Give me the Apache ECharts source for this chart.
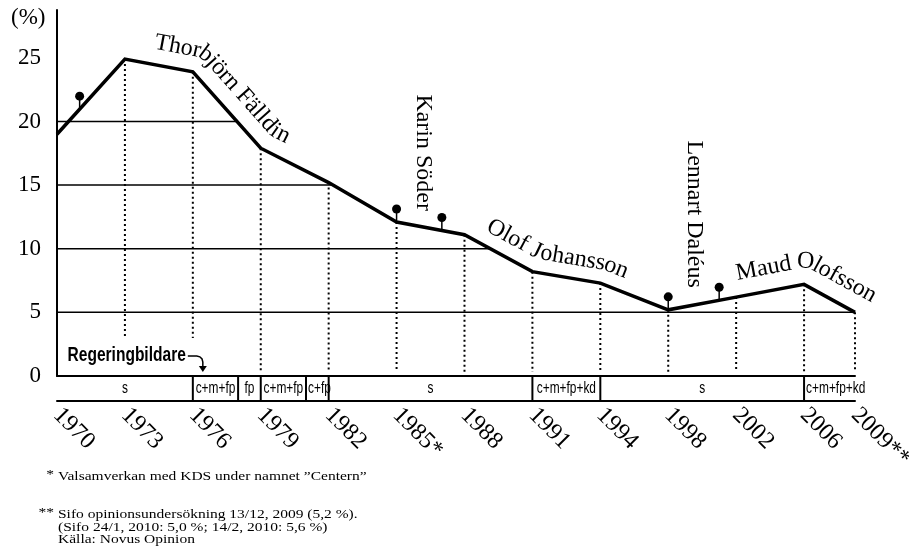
<!DOCTYPE html>
<html>
  <head>
    <meta charset="utf-8" />
    <title>Centerpartiet 1970–2009</title>
    <script src="https://cdn.jsdelivr.net/npm/echarts@6/dist/echarts.min.js"></script>
    <style>
      * {
        padding: 0;
        margin: 0;
      }
      body {
        background: #fff;
      }
      #chart-panel {
        width: 909px;
        height: 551px;
      }
    </style>
  </head>
  <body>
    <div id="chart-panel"></div>
    <script type="text/javascript">
      var myChart = echarts.init(document.getElementById("chart-panel"));

      // valår och etiketter
      var yearLabels = ["1970", "1973", "1976", "1979", "1982", "1985*", "1988", "1991", "1994", "1998", "2002", "2006", "2009**"];
      var electionYears = [1970, 1973, 1976, 1979, 1982, 1985, 1988, 1991, 1994, 1998, 2002, 2006, 2009];
      // plats på x-axeln (2009 är en opinionsmätning, ritad närmare 2006)
      var electionPos = [0, 1, 2, 3, 4, 5, 6, 7, 8, 9, 10, 11, 11.75];
      var percent = [19.0, 24.9, 23.9, 17.9, 15.2, 12.1, 11.1, 8.2, 7.3, 5.2, 6.2, 7.2, 5.0];

      var yTicks = [0, 5, 10, 15, 20, 25];
      var levels = [5, 10, 15, 20, 25];

      // partiledarbyten
      var leaderYears = [1971, 1985, 1987, 1998, 2001];
      var leaderNames = ["Thorbjörn Fälldin", "Karin Söder", "Olof Johansson", "Lennart Daléus", "Maud Olofsson"];

      // regeringsbildare
      var govStart = [1970, 1976, 1978, 1979, 1981, 1982, 1991, 1994, 2006];
      var govLabels = ["s", "c+m+fp", "fp", "c+m+fp", "c+fp", "s", "c+m+fp+kd", "s", "c+m+fp+kd"];

      var footnotes = [
        ["*", "Valsamverkan med KDS under namnet \u201dCentern\u201d"],
        ["**", "Sifo opinionsundersökning 13/12, 2009 (5,2 %)."],
        ["", "(Sifo 24/1, 2010: 5,0 %; 14/2, 2010: 5,6 %)"],
        ["", "Källa: Novus Opinion"],
      ];

      var serif = '"Liberation Serif", "Times New Roman", serif';
      var xMax = electionPos[electionPos.length - 1];
      var yMax = 28.76;

      function yearToX(y) {
        for (var i = 0; i < electionYears.length - 1; i++) {
          if (y <= electionYears[i + 1]) {
            var t = (y - electionYears[i]) / (electionYears[i + 1] - electionYears[i]);
            return electionPos[i] + t * (electionPos[i + 1] - electionPos[i]);
          }
        }
        return xMax;
      }

      function valueAt(x) {
        for (var i = 0; i < electionPos.length - 1; i++) {
          if (x <= electionPos[i + 1]) {
            var t = (x - electionPos[i]) / (electionPos[i + 1] - electionPos[i]);
            return percent[i] + t * (percent[i + 1] - percent[i]);
          }
        }
        return percent[percent.length - 1];
      }

      // stödlinjen går från axeln till sista punkten där kurvan ligger på nivån
      function levelEnd(level) {
        var end = null;
        for (var i = 0; i < electionPos.length; i++) {
          if (percent[i] >= level) end = electionPos[i];
          if (i < electionPos.length - 1) {
            var a = percent[i], b = percent[i + 1];
            if (a >= level && b < level) {
              end = electionPos[i] + ((a - level) / (a - b)) * (electionPos[i + 1] - electionPos[i]);
            }
          }
        }
        return end;
      }

      var lineData = electionPos.map(function (x, i) {
        return [x, percent[i]];
      });
      var levelData = [];
      levels.forEach(function (lv) {
        var e = levelEnd(lv);
        if (e !== null) levelData.push([e, lv]);
      });
      var leaderData = leaderYears.map(function (y) {
        var x = yearToX(y);
        return [x, valueAt(x)];
      });
      var govData = govStart.map(function (y, i) {
        var end = i < govStart.length - 1 ? govStart[i + 1] : electionYears[electionYears.length - 1];
        return [yearToX(y), yearToX(end)];
      });

      var stripFont = '17px "Liberation Sans", sans-serif';
      var stripScale = 0.7;
      var measureCtx = document.createElement("canvas").getContext("2d");

      var option = {
        animation: false,
        backgroundColor: "#fff",
        grid: [
          { left: 57, right: 54, top: 10, bottom: 175, outerBoundsMode: "none" },
          { left: 57, right: 54, top: 376, bottom: 150.5, outerBoundsMode: "none" },
        ],
        xAxis: [
          {
            gridIndex: 0,
            type: "value",
            min: 0,
            max: xMax,
            axisLine: { show: true, lineStyle: { color: "#000", width: 2 } },
            axisTick: { show: false },
            axisLabel: { show: false },
            splitLine: { show: false },
          },
          {
            gridIndex: 1,
            type: "value",
            min: 0,
            max: xMax,
            axisLine: { show: true, lineStyle: { color: "#000", width: 2 } },
            axisTick: { show: false },
            splitLine: { show: false },
            axisLabel: {
              customValues: electionPos,
              rotate: -45,
              margin: 11,
              color: "#000",
              fontFamily: serif,
              fontSize: 24,
              formatter: function (v) {
                for (var i = 0; i < electionPos.length; i++) {
                  if (Math.abs(electionPos[i] - v) < 1e-6) return yearLabels[i];
                }
                return "";
              },
            },
          },
        ],
        yAxis: [
          {
            gridIndex: 0,
            type: "value",
            min: 0,
            max: yMax,
            axisLine: { show: true, lineStyle: { color: "#000", width: 2 } },
            axisTick: { show: false },
            splitLine: { show: false },
            axisLabel: {
              customValues: yTicks,
              margin: 16,
              color: "#000",
              fontFamily: serif,
              fontSize: 23,
            },
          },
          { gridIndex: 1, type: "value", min: 0, max: 1, show: false },
        ],
        series: [
          {
            // stödlinjer 5, 10, 15, 20
            type: "custom",
            xAxisIndex: 0,
            yAxisIndex: 0,
            z: 2,
            silent: true,
            data: levelData,
            renderItem: function (params, api) {
              var a = api.coord([0, api.value(1)]);
              var b = api.coord([api.value(0), api.value(1)]);
              return {
                type: "line",
                shape: { x1: a[0], y1: a[1], x2: b[0], y2: b[1] },
                style: { stroke: "#000", lineWidth: 1.5 },
              };
            },
          },
          {
            // prickade lodlinjer
            type: "custom",
            xAxisIndex: 0,
            yAxisIndex: 0,
            z: 2,
            silent: true,
            data: lineData,
            renderItem: function (params, api) {
              if (params.dataIndex === 0) return null;
              var top = api.coord([api.value(0), api.value(1)]);
              var bot = api.coord([api.value(0), 0]);
              return {
                type: "line",
                shape: { x1: top[0], y1: top[1], x2: bot[0], y2: bot[1] - 4 },
                style: { stroke: "#000", lineWidth: 2, lineDash: [2, 3] },
              };
            },
          },
          {
            type: "line",
            xAxisIndex: 0,
            yAxisIndex: 0,
            z: 5,
            data: lineData,
            symbol: "none",
            lineStyle: { color: "#000", width: 3.5, join: "miter" },
          },
          {
            // partiledarbyten
            type: "custom",
            xAxisIndex: 0,
            yAxisIndex: 0,
            z: 6,
            silent: true,
            data: leaderData,
            renderItem: function (params, api) {
              var b = api.coord([api.value(0), api.value(1)]);
              var top = b[1] - 13;
              return {
                type: "group",
                children: [
                  {
                    type: "line",
                    shape: { x1: b[0], y1: b[1], x2: b[0], y2: top },
                    style: { stroke: "#000", lineWidth: 1.5 },
                  },
                  { type: "circle", shape: { cx: b[0], cy: top, r: 4.5 }, style: { fill: "#000" } },
                ],
              };
            },
          },
          {
            // regeringsbildare
            type: "custom",
            xAxisIndex: 1,
            yAxisIndex: 1,
            z: 3,
            silent: true,
            data: govData,
            renderItem: function (params, api) {
              var s = api.value(0), e = api.value(1);
              var p0 = api.coord([s, 1]);
              var p1 = api.coord([e, 0]);
              var label = govLabels[params.dataIndex];
              measureCtx.font = stripFont;
              var w = measureCtx.measureText(label).width * stripScale;
              var cx = (p0[0] + p1[0]) / 2;
              // för bred text börjar strax efter skiljelinjen
              if (w > p1[0] - p0[0] - 4) cx = p0[0] + 2 + w / 2;
              var children = [
                {
                  type: "text",
                  x: cx,
                  y: (p0[1] + p1[1]) / 2,
                  scaleX: stripScale,
                  style: {
                    text: label,
                    font: stripFont,
                    fill: "#000",
                    textAlign: "center",
                    textVerticalAlign: "middle",
                  },
                },
              ];
              if (s > 0) {
                children.push({
                  type: "line",
                  shape: { x1: p0[0], y1: p0[1], x2: p0[0], y2: p1[1] },
                  style: { stroke: "#000", lineWidth: 2 },
                });
              }
              return { type: "group", children: children };
            },
          },
        ],
      };

      myChart.setOption(option);

      //=============== namn längs kurvan ===============//
      var pts = lineData.map(function (d) {
        return myChart.convertToPixel({ gridIndex: 0 }, d);
      });

      function offsetLine(p, off) {
        var segs = [];
        for (var i = 0; i < p.length - 1; i++) {
          var dx = p[i + 1][0] - p[i][0], dy = p[i + 1][1] - p[i][1];
          var len = Math.sqrt(dx * dx + dy * dy);
          dx /= len;
          dy /= len;
          segs.push({ a: p[i], b: p[i + 1], dx: dx, dy: dy, nx: dy, ny: -dx });
        }
        var out = [[segs[0].a[0] + segs[0].nx * off, segs[0].a[1] + segs[0].ny * off]];
        for (var j = 1; j < segs.length; j++) {
          var s0 = segs[j - 1], s1 = segs[j], v = s1.a;
          var cross = s0.dx * s1.dy - s0.dy * s1.dx;
          if (cross > 0) {
            var a0 = Math.atan2(s0.ny, s0.nx), a1 = Math.atan2(s1.ny, s1.nx);
            var d = a1 - a0;
            while (d > Math.PI) d -= 2 * Math.PI;
            while (d < -Math.PI) d += 2 * Math.PI;
            for (var k = 0; k <= 12; k++) {
              var ang = a0 + (d * k) / 12;
              out.push([v[0] + Math.cos(ang) * off, v[1] + Math.sin(ang) * off]);
            }
          } else {
            var q0 = [s0.a[0] + s0.nx * off, s0.a[1] + s0.ny * off];
            var q1 = [s1.a[0] + s1.nx * off, s1.a[1] + s1.ny * off];
            if (Math.abs(cross) < 1e-9) {
              out.push(q1);
            } else {
              var t = ((q1[0] - q0[0]) * s1.dy - (q1[1] - q0[1]) * s1.dx) / cross;
              out.push([q0[0] + t * s0.dx, q0[1] + t * s0.dy]);
            }
          }
        }
        var last = segs[segs.length - 1];
        out.push([last.b[0] + last.nx * off, last.b[1] + last.ny * off]);
        return out;
      }

      function textAlongLine(str, startX, off, font) {
        var path = offsetLine(pts, off);
        var cum = [0];
        for (var i = 1; i < path.length; i++) {
          var dx = path[i][0] - path[i - 1][0], dy = path[i][1] - path[i - 1][1];
          cum.push(cum[i - 1] + Math.sqrt(dx * dx + dy * dy));
        }
        function pointAt(s) {
          for (var i = 1; i < path.length; i++) {
            if (s <= cum[i] || i === path.length - 1) {
              var seg = cum[i] - cum[i - 1] || 1;
              var t = (s - cum[i - 1]) / seg;
              return [path[i - 1][0] + t * (path[i][0] - path[i - 1][0]), path[i - 1][1] + t * (path[i][1] - path[i - 1][1])];
            }
          }
        }
        var startPx = myChart.convertToPixel({ gridIndex: 0 }, [startX, 0])[0];
        var s = 0;
        for (var j = 1; j < path.length; j++) {
          if (path[j][0] >= startPx) {
            var tt = (startPx - path[j - 1][0]) / (path[j][0] - path[j - 1][0]);
            s = cum[j - 1] + tt * (cum[j] - cum[j - 1]);
            break;
          }
        }
        measureCtx.font = font;
        var els = [];
        for (var k = 0; k < str.length; k++) {
          var w0 = measureCtx.measureText(str.slice(0, k)).width;
          var w1 = measureCtx.measureText(str.slice(0, k + 1)).width;
          if (str[k] === " ") continue;
          var pa = pointAt(s + w0), pb = pointAt(s + w1), pm = pointAt(s + (w0 + w1) / 2);
          els.push({
            type: "text",
            x: pm[0],
            y: pm[1],
            rotation: -Math.atan2(pb[1] - pa[1], pb[0] - pa[0]),
            z: 20,
            style: {
              text: str[k],
              font: font,
              fill: "#000",
              textAlign: "center",
              textVerticalAlign: "middle",
            },
          });
        }
        return els;
      }

      var nameFont = "24px " + serif;
      var graphics = [];
      graphics = graphics.concat(textAlongLine(leaderNames[0], 1.44, 22, nameFont));
      graphics = graphics.concat(textAlongLine(leaderNames[2], 6.35, 20, nameFont));
      graphics = graphics.concat(textAlongLine(leaderNames[4], 10.0, 23, nameFont));

      // stående namn
      var dots = leaderData.map(function (d) {
        var p = myChart.convertToPixel({ gridIndex: 0 }, d);
        return [p[0], p[1] - 13];
      });
      [
        [1, 27, 2],
        [3, 26, -9],
      ].forEach(function (c) {
        graphics.push({
          type: "text",
          x: dots[c[0]][0] + c[1],
          y: dots[c[0]][1] + c[2],
          rotation: -Math.PI / 2,
          z: 20,
          style: {
            text: leaderNames[c[0]],
            font: nameFont,
            fill: "#000",
            textAlign: "right",
            textVerticalAlign: "middle",
          },
        });
      });

      // Regeringbildare + pil
      var ax = myChart.convertToPixel({ gridIndex: 0 }, [electionPos[2], 0]);
      graphics.push({
        type: "rect",
        z: 15,
        shape: { x: ax[0] - 130, y: ax[1] - 38, width: 133, height: 34 },
        style: { fill: "#fff" },
      });
      graphics.push({
        type: "text",
        x: ax[0] - 7,
        y: ax[1] - 21,
        scaleX: 0.74,
        z: 16,
        style: {
          text: "Regeringbildare",
          font: 'bold 21px "Liberation Sans", sans-serif',
          fill: "#000",
          textAlign: "right",
          textVerticalAlign: "middle",
        },
      });
      graphics.push({
        type: "polyline",
        z: 16,
        shape: {
          points: [
            [ax[0] - 5, ax[1] - 20],
            [ax[0] + 4, ax[1] - 20],
            [ax[0] + 7, ax[1] - 19.2],
            [ax[0] + 9.2, ax[1] - 17],
            [ax[0] + 10, ax[1] - 14],
            [ax[0] + 10, ax[1] - 8],
          ],
        },
        style: { stroke: "#000", lineWidth: 1.5, fill: null },
      });
      graphics.push({
        type: "polygon",
        z: 16,
        shape: {
          points: [
            [ax[0] + 6, ax[1] - 10],
            [ax[0] + 14, ax[1] - 10],
            [ax[0] + 10, ax[1] - 4],
          ],
        },
        style: { fill: "#000" },
      });

      // (%)
      graphics.push({
        type: "text",
        x: 11,
        y: 18,
        z: 20,
        style: { text: "(%)", font: "23px " + serif, fill: "#000", textVerticalAlign: "middle" },
      });

      // fotnoter (något hoptryckta på höjden)
      var noteFont = "15.5px " + serif;
      var noteY = [477, 515, 527.5, 540];
      footnotes.forEach(function (n, i) {
        if (n[0]) {
          graphics.push({
            type: "text",
            x: 54,
            y: noteY[i] - 2,
            scaleY: 0.84,
            z: 20,
            style: { text: n[0], font: noteFont, fill: "#000", textAlign: "right", textVerticalAlign: "middle" },
          });
        }
        graphics.push({
          type: "text",
          x: 58,
          y: noteY[i],
          scaleY: 0.84,
          z: 20,
          style: { text: n[1], font: noteFont, fill: "#000", textVerticalAlign: "middle" },
        });
      });

      myChart.setOption({ graphic: { elements: graphics } });
      window.addEventListener("resize", myChart.resize);
    </script>
  </body>
</html>
